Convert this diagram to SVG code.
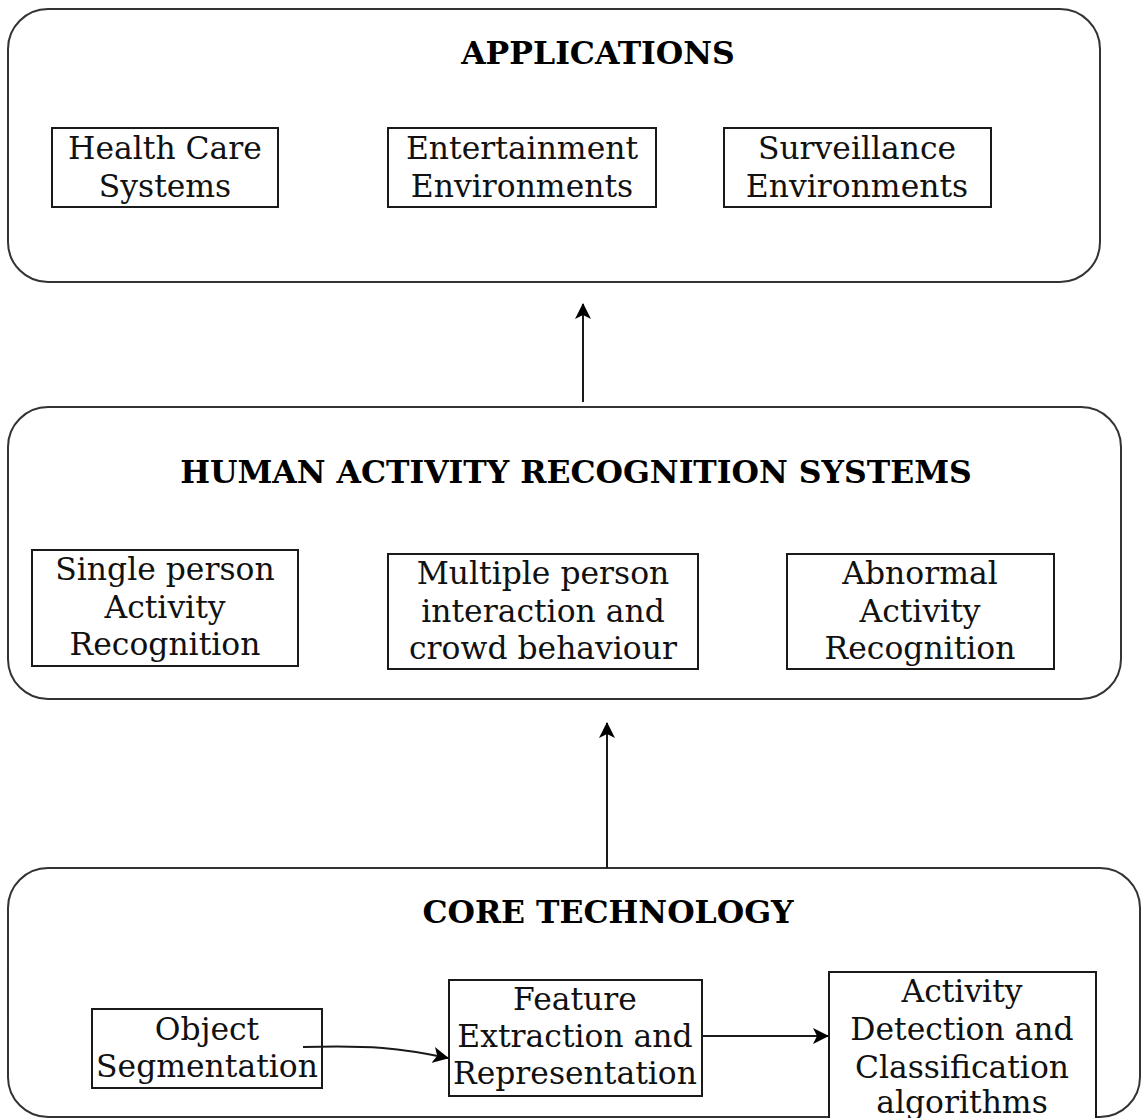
<svg xmlns="http://www.w3.org/2000/svg" width="1141" height="1118" viewBox="0 0 1141 1118">
  <style>
    .panel { fill: #ffffff; stroke: #333333; stroke-width: 2; }
    .box { fill: #ffffff; stroke: #1a1a1a; stroke-width: 2; }
    .title { font-family: "DejaVu Serif", serif; font-weight: bold; font-size: 31.5px; fill: #000000; text-anchor: middle; }
    .label { font-family: "DejaVu Serif", serif; font-size: 31.4px; fill: #111111; text-anchor: middle; }
    .edge { fill: none; stroke: #1a1a1a; stroke-width: 2; }
  </style>
  <defs>
    <marker id="arrow" viewBox="0 0 16 16" refX="15" refY="8" markerWidth="16" markerHeight="16" markerUnits="userSpaceOnUse" orient="auto">
      <path d="M0,0 L16,8 L0,16 L4,8 Z" fill="#000000"/>
    </marker>
  </defs>
  <rect width="1141" height="1118" fill="#ffffff"/>

  <!-- Applications layer -->
  <g id="applications">
    <rect class="panel" x="8" y="9" width="1092" height="273" rx="40" ry="40"/>
    <text class="title" x="598" y="64">APPLICATIONS</text>
  </g>
  <g id="health-care">
    <rect class="box" x="52" y="128" width="226" height="79"/>
    <text class="label" x="165" y="159">Health Care</text>
    <text class="label" x="165" y="197">Systems</text>
  </g>
  <g id="entertainment">
    <rect class="box" x="388" y="128" width="268" height="79"/>
    <text class="label" x="522" y="159">Entertainment</text>
    <text class="label" x="522" y="197">Environments</text>
  </g>
  <g id="surveillance">
    <rect class="box" x="724" y="128" width="267" height="79"/>
    <text class="label" x="857" y="159">Surveillance</text>
    <text class="label" x="857" y="197">Environments</text>
  </g>

  <!-- Human activity recognition layer -->
  <g id="har-systems">
    <rect class="panel" x="8" y="407" width="1113" height="292" rx="40" ry="40"/>
    <text class="title" x="576" y="483">HUMAN ACTIVITY RECOGNITION SYSTEMS</text>
  </g>
  <g id="single-person">
    <rect class="box" x="32" y="550" width="266" height="116"/>
    <text class="label" x="165" y="580">Single person</text>
    <text class="label" x="165" y="618">Activity</text>
    <text class="label" x="165" y="655">Recognition</text>
  </g>
  <g id="multiple-person">
    <rect class="box" x="388" y="554" width="310" height="115"/>
    <text class="label" x="543" y="584">Multiple person</text>
    <text class="label" x="543" y="622">interaction and</text>
    <text class="label" x="543" y="659">crowd behaviour</text>
  </g>
  <g id="abnormal">
    <rect class="box" x="787" y="554" width="267" height="115"/>
    <text class="label" x="920" y="584">Abnormal</text>
    <text class="label" x="920" y="622">Activity</text>
    <text class="label" x="920" y="659">Recognition</text>
  </g>

  <!-- Core technology layer -->
  <g id="core-technology">
    <rect class="panel" x="8" y="868" width="1132" height="249" rx="40" ry="40"/>
    <text class="title" x="608" y="923">CORE TECHNOLOGY</text>
  </g>
  <g id="object-segmentation">
    <rect class="box" x="92" y="1009" width="230" height="79"/>
    <text class="label" x="207" y="1040">Object</text>
    <text class="label" x="207" y="1077">Segmentation</text>
  </g>
  <g id="feature-extraction">
    <rect class="box" x="449" y="980" width="253" height="116"/>
    <text class="label" x="575" y="1010">Feature</text>
    <text class="label" x="575" y="1047">Extraction and</text>
    <text class="label" x="575" y="1084">Representation</text>
  </g>
  <g id="activity-detection">
    <rect class="box" x="829" y="972" width="267" height="160"/>
    <text class="label" x="962" y="1002">Activity</text>
    <text class="label" x="962" y="1040">Detection and</text>
    <text class="label" x="962" y="1078">Classification</text>
    <text class="label" x="962" y="1113">algorithms</text>
  </g>

  <!-- Connectors -->
  <g id="connectors">
    <path class="edge" d="M583,402 L583,304" marker-end="url(#arrow)"/>
    <path class="edge" d="M607,868 L607,723" marker-end="url(#arrow)"/>
    <path class="edge" d="M303,1047 C370,1045 400,1048 448,1058" marker-end="url(#arrow)"/>
    <path class="edge" d="M702,1036 L828,1036" marker-end="url(#arrow)"/>
  </g>
</svg>
